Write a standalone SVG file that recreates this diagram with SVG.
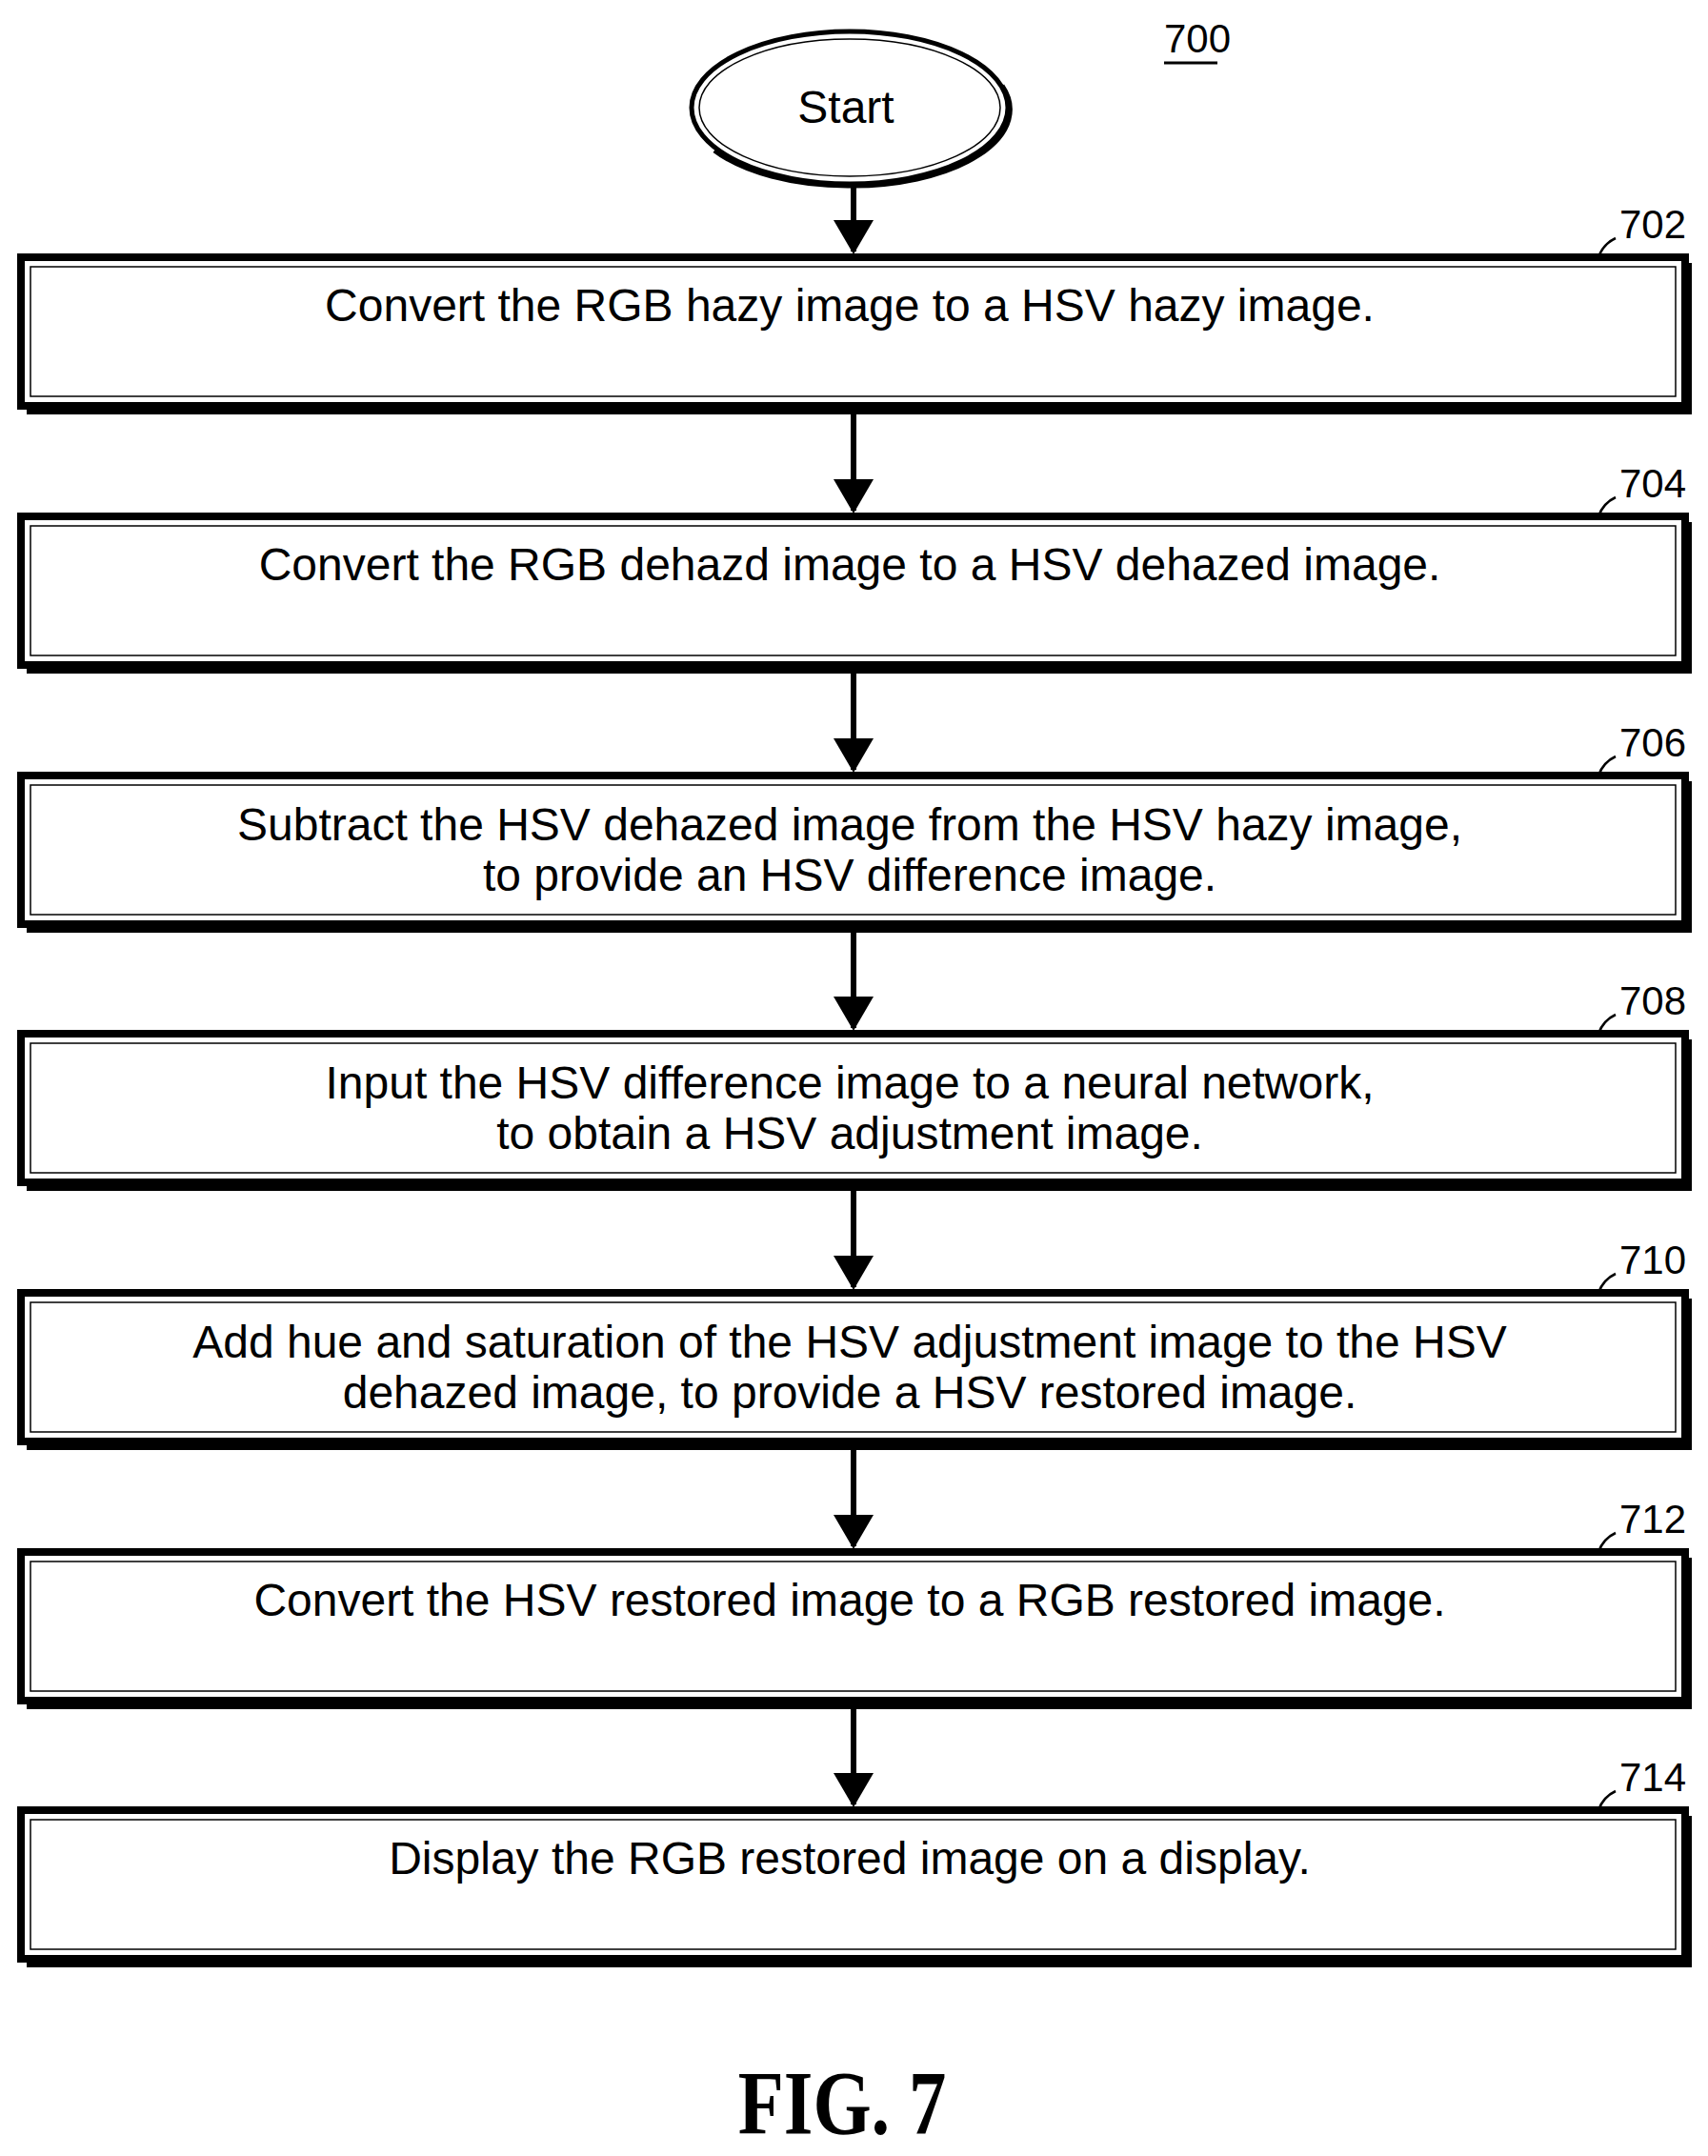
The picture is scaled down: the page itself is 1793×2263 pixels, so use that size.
<svg xmlns="http://www.w3.org/2000/svg" width="1793" height="2263" viewBox="0 0 1793 2263">
<style>
.o{fill:#fff;stroke:#000;stroke-width:8}
.s{fill:none;stroke:#000;stroke-width:6}
.i{fill:none;stroke:#000;stroke-width:1.5}
.t{font-family:"Liberation Sans",Arial,sans-serif;font-size:48px;text-anchor:middle;fill:#000}
.r{font-family:"Liberation Sans",Arial,sans-serif;font-size:42px;fill:#000}
.c{fill:none;stroke:#000;stroke-width:6}
.l{fill:none;stroke:#000;stroke-width:2.5}
</style>
<defs>
<marker id="a" markerWidth="6" markerHeight="9" refX="5.5" refY="4.5" orient="auto" markerUnits="strokeWidth"><path d="M0,1 L6,4.5 L0,8 Z" fill="#000"/></marker>
<g id="box"><rect class="o" x="22" y="0" width="1747" height="156"/><path class="s" d="M1773,6 V162 H28"/><rect class="i" x="32" y="10" width="1727" height="136"/></g>
</defs>
<text class="r" x="1222" y="55">700</text>
<line x1="1222" y1="66" x2="1278" y2="66" stroke="#000" stroke-width="3"/>
<g id="start">
<ellipse cx="892" cy="113" rx="166" ry="80" fill="#fff" stroke="#000" stroke-width="5"/>
<ellipse cx="892" cy="113" rx="158" ry="72" fill="none" stroke="#000" stroke-width="1.5"/>
<path d="M1052,90 A166,80 0 0 1 890,195 A166,80 0 0 1 750,158" fill="none" stroke="#000" stroke-width="5"/>
<text class="t" x="888" y="129">Start</text>
</g>
<g id="connectors">
<line class="c" x1="896" y1="196" x2="896" y2="264" marker-end="url(#a)"/>
<line class="c" x1="896" y1="434" x2="896" y2="536" marker-end="url(#a)"/>
<line class="c" x1="896" y1="706" x2="896" y2="808" marker-end="url(#a)"/>
<line class="c" x1="896" y1="978" x2="896" y2="1079" marker-end="url(#a)"/>
<line class="c" x1="896" y1="1249" x2="896" y2="1351" marker-end="url(#a)"/>
<line class="c" x1="896" y1="1521" x2="896" y2="1623" marker-end="url(#a)"/>
<line class="c" x1="896" y1="1793" x2="896" y2="1894" marker-end="url(#a)"/>
</g>
<g id="n702" transform="translate(0,270)"><use href="#box"/><path class="l" d="M1678,0 Q1683,-14 1696,-20"/><text class="r" x="1700" y="-20">702</text><text class="t" x="892" y="67">Convert the RGB hazy image to a HSV hazy image.</text></g>
<g id="n704" transform="translate(0,542)"><use href="#box"/><path class="l" d="M1678,0 Q1683,-14 1696,-20"/><text class="r" x="1700" y="-20">704</text><text class="t" x="892" y="67">Convert the RGB dehazd image to a HSV dehazed image.</text></g>
<g id="n706" transform="translate(0,814)"><use href="#box"/><path class="l" d="M1678,0 Q1683,-14 1696,-20"/><text class="r" x="1700" y="-20">706</text><text class="t" x="892" y="68">Subtract the HSV dehazed image from the HSV hazy image,</text><text class="t" x="892" y="121">to provide an HSV difference image.</text></g>
<g id="n708" transform="translate(0,1085)"><use href="#box"/><path class="l" d="M1678,0 Q1683,-14 1696,-20"/><text class="r" x="1700" y="-20">708</text><text class="t" x="892" y="68">Input the HSV difference image to a neural network,</text><text class="t" x="892" y="121">to obtain a HSV adjustment image.</text></g>
<g id="n710" transform="translate(0,1357)"><use href="#box"/><path class="l" d="M1678,0 Q1683,-14 1696,-20"/><text class="r" x="1700" y="-20">710</text><text class="t" x="892" y="68">Add hue and saturation of the HSV adjustment image to the HSV</text><text class="t" x="892" y="121">dehazed image, to provide a HSV restored image.</text></g>
<g id="n712" transform="translate(0,1629)"><use href="#box"/><path class="l" d="M1678,0 Q1683,-14 1696,-20"/><text class="r" x="1700" y="-20">712</text><text class="t" x="892" y="67">Convert the HSV restored image to a RGB restored image.</text></g>
<g id="n714" transform="translate(0,1900)"><use href="#box"/><path class="l" d="M1678,0 Q1683,-14 1696,-20"/><text class="r" x="1700" y="-20">714</text><text class="t" x="892" y="67">Display the RGB restored image on a display.</text></g>
<text x="0" y="0" transform="translate(884,2240) scale(0.82,1)" style="font-family:'Liberation Serif',serif;font-weight:bold;font-size:96px;text-anchor:middle">FIG. 7</text>
</svg>
